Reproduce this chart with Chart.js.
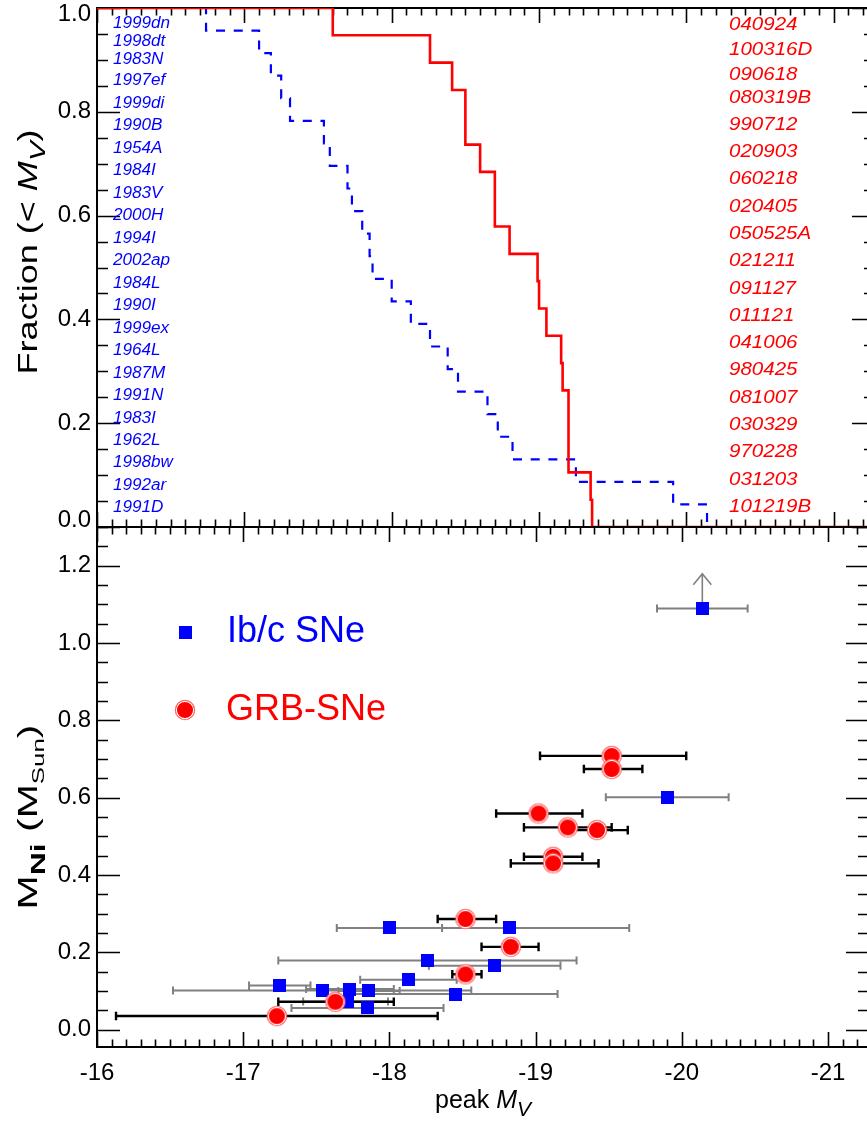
<!DOCTYPE html>
<html>
<head>
<meta charset="utf-8">
<title>Peak M_V and Ni masses of Ib/c SNe and GRB-SNe</title>
<script src="https://cdn.jsdelivr.net/npm/chart.js@4.4.1/dist/chart.umd.min.js"></script>
<style>
  html, body { margin: 0; padding: 0; background: #fff; overflow: hidden; }
  #wrap { position: relative; width: 867px; height: 1124px; overflow: hidden; }
  canvas { position: absolute; left: 0; top: 0; }
</style>
</head>
<body>
<div id="wrap">
  <canvas id="cdfChart" width="880" height="1124"></canvas>
  <canvas id="niChart" width="880" height="1124"></canvas>
</div>
<script>
// ---------- top panel: peak M_V behind the cumulative distributions ----------
const ibcNames = ['1999dn', '1998dt', '1983N', '1997ef', '1999di', '1990B', '1954A', '1984I',
  '1983V', '2000H', '1994I', '2002ap', '1984L', '1990I', '1999ex', '1964L', '1987M', '1991N',
  '1983I', '1962L', '1998bw', '1992ar', '1991D'];
const ibcCdfMV = [-16.74, -17.10, -17.18, -17.25, -17.31, -17.54, -17.58, -17.70, -17.73, -17.80,
  -17.85, -17.87, -18.00, -18.13, -18.26, -18.38, -18.45, -18.65, -18.72, -18.82, -19.25, -19.91, -20.14];

const grbNames = ['040924', '100316D', '090618', '080319B', '990712', '020903', '060218', '020405',
  '050525A', '021211', '091127', '011121', '041006', '980425', '081007', '030329', '970228',
  '031203', '101219B'];
const grbCdfMV = [-17.60, -18.26, -18.41, -18.50, -18.50, -18.60, -18.70, -18.70, -18.80, -18.99,
  -19.00, -19.05, -19.15, -19.16, -19.20, -19.20, -19.20, -19.35, -19.36];

// ---------- bottom panel: peak M_V against 56Ni mass ----------
const ibcMV       = [-18.00, -18.82, -18.26, -18.72, -18.13, -17.25, -17.54, -17.73, -17.86, -18.45, -17.71, -17.85, -20.14, -19.90];
const ibcNi       = [0.263, 0.263, 0.179, 0.165, 0.129, 0.114, 0.101, 0.105, 0.100, 0.092, 0.073, 0.056, 1.089, 0.601];
const ibcMVfaint  = [-17.64, -18.00, -17.24, -18.27, -17.80, -17.04, -16.52, -17.43, -17.65, -17.74, -17.41, -17.33, -19.83, -19.48];
const ibcMVbright = [-18.36, -19.64, -19.28, -19.17, -18.46, -17.46, -18.56, -18.03, -18.07, -19.15, -17.99, -18.37, -20.45, -20.32];
const ibcLowerLimit = [false, false, false, false, false, false, false, false, false, false, false, false, true, false];

const grbMV       = [-17.23, -17.63, -18.52, -18.83, -18.52, -19.12, -19.12, -19.02, -19.22, -19.42, -19.52, -19.52];
const grbNi       = [0.035, 0.072, 0.143, 0.214, 0.286, 0.447, 0.430, 0.559, 0.523, 0.516, 0.708, 0.674];
const grbMVfaint  = [-16.13, -17.24, -18.43, -18.63, -18.33, -18.92, -18.83, -18.73, -18.92, -19.22, -19.03, -19.33];
const grbMVbright = [-18.33, -18.03, -18.63, -19.02, -18.73, -19.32, -19.43, -19.32, -19.52, -19.63, -20.03, -19.73];

const legendLabels = ['Ib/c SNe', 'GRB-SNe'];

// axis ranges
const X_FAINT = -16, X_BRIGHT = -21.28;
const NI_MIN = -0.045, NI_MAX = 1.3;
const ARROW_LEN = 0.09;

const FONT = '"Liberation Sans", Arial, Helvetica, sans-serif';
const BLUE = '#0000ff', RED = '#ff0000', GREY = '#808080';

function cumulative(mags) {
  const sorted = mags.slice().sort((a, b) => b - a);
  const pts = [{ x: X_FAINT, y: 1 }];
  sorted.forEach((m, i) => pts.push({ x: m, y: 1 - (i + 1) / sorted.length }));
  pts.push({ x: X_BRIGHT, y: 0 });
  return pts;
}

function squareMarker(size, color) {
  const c = document.createElement('canvas');
  c.width = c.height = size;
  const g = c.getContext('2d');
  g.fillStyle = color;
  g.fillRect(0, 0, size, size);
  return c;
}

function discMarker(r) {
  const c = document.createElement('canvas');
  c.width = c.height = 2 * r + 2;
  const g = c.getContext('2d');
  const m = r + 1;
  g.fillStyle = RED;
  g.beginPath(); g.arc(m, m, r, 0, Math.PI * 2); g.fill();
  g.strokeStyle = '#ff8080'; g.lineWidth = 0.8;
  g.beginPath(); g.arc(m, m, r - 0.2, 0, Math.PI * 2); g.stroke();
  g.strokeStyle = '#ffffff'; g.lineWidth = 1.1;
  g.beginPath(); g.arc(m, m, r - 1.4, 0, Math.PI * 2); g.stroke();
  return c;
}

const squareImg = squareMarker(13, BLUE);
const discImg = discMarker(10);

// rich text: parts = [text, size, style, dy]
function richWidth(ctx, parts) {
  let w = 0;
  parts.forEach(p => { ctx.font = `${p[2] || ''} ${p[1]}px ${FONT}`; w += ctx.measureText(p[0]).width; });
  return w;
}
function drawRich(ctx, parts, x, y) {
  let cx = x;
  parts.forEach(p => {
    ctx.font = `${p[2] || ''} ${p[1]}px ${FONT}`;
    ctx.fillText(p[0], cx, y + (p[3] || 0));
    cx += ctx.measureText(p[0]).width;
  });
}

// frame plus IDL style inward ticks
function frameTicks(chart, yMinor, yMajor) {
  const { ctx, chartArea: a, scales: { x, y } } = chart;
  ctx.save();
  ctx.strokeStyle = '#000';
  ctx.lineWidth = 1.6;
  ctx.beginPath();
  for (let k = 0; ; k++) {
    const v = X_FAINT - k * 0.1;
    if (v < x.min - 1e-6) break;
    const px = Math.round(x.getPixelForValue(v)) + 0.5;
    const len = k % 10 === 0 ? 15 : 7.5;
    ctx.moveTo(px, a.top); ctx.lineTo(px, a.top + len);
    ctx.moveTo(px, a.bottom); ctx.lineTo(px, a.bottom - len);
  }
  const n0 = Math.ceil(y.min / yMinor - 1e-6);
  for (let k = n0; k * yMinor <= y.max + 1e-6; k++) {
    const v = k * yMinor;
    const py = Math.round(y.getPixelForValue(v)) + 0.5;
    const major = Math.abs(v / yMajor - Math.round(v / yMajor)) < 1e-6;
    const len = major ? 23 : 11;
    ctx.moveTo(a.left, py); ctx.lineTo(a.left + len, py);
    ctx.moveTo(a.right, py); ctx.lineTo(a.right - len, py);
  }
  ctx.stroke();
  ctx.lineWidth = 2;
  ctx.strokeRect(a.left, a.top, a.right - a.left, a.bottom - a.top);
  ctx.restore();
}

// rotated axis title, stretched along the text to a given length
function yTitle(ctx, parts, cx, cy, len) {
  ctx.save();
  const w = richWidth(ctx, parts);
  ctx.translate(cx, cy);
  ctx.rotate(-Math.PI / 2);
  ctx.scale(len / w, 1);
  ctx.fillStyle = '#000';
  ctx.textBaseline = 'alphabetic';
  drawRich(ctx, parts, -w / 2, 0);
  ctx.restore();
}

function fixedAxis(size, isX) {
  return function (s) {
    if (isX) { s.height = size; s.paddingLeft = 0; s.paddingRight = 0; }
    else { s.width = size; s.paddingTop = 0; s.paddingBottom = 0; }
  };
}

const tickFont = { family: FONT, size: 24 };

// ---------------- top chart ----------------
const cdfDecor = {
  id: 'cdfDecor',
  beforeDatasetsDraw(chart) { frameTicks(chart, 0.05, 0.2); },
  afterDraw(chart) {
    const { ctx, chartArea: a, scales: { y } } = chart;
    ctx.save();
    // y tick labels, the end ones kept inside the panel height
    ctx.fillStyle = '#000';
    ctx.font = `24px ${FONT}`;
    ctx.textAlign = 'right';
    ctx.textBaseline = 'middle';
    y.ticks.forEach(t => {
      const py = Math.min(Math.max(y.getPixelForValue(t.value), a.top + 6), a.bottom - 7);
      ctx.fillText(t.value.toFixed(1), 91, py);
    });
    ctx.textAlign = 'left';
    ctx.fillStyle = BLUE;
    ctx.font = `italic 16px ${FONT}`;
    ibcNames.forEach((name, i) => {
      const py = a.top + (i < 3 ? 16 + 17.7 * i : 72.7 + 22.49 * (i - 3));
      ctx.save(); ctx.translate(113, py); ctx.scale(1.07, 1); ctx.fillText(name, 0, 0); ctx.restore();
    });
    ctx.fillStyle = RED;
    ctx.font = `italic 19px ${FONT}`;
    grbNames.forEach((name, i) => {
      const py = a.top + (i < 3 ? 17 + 25 * i : 89.3 + 27.29 * (i - 3));
      ctx.save(); ctx.translate(729, py); ctx.scale(1.08, 1); ctx.fillText(name, 0, 0); ctx.restore();
    });
    yTitle(ctx, [['Fraction (< ', 27], ['M', 27, 'italic'], ['V', 22, 'italic', 8], [')', 27]], 37, 252, 245);
    ctx.restore();
  }
};

new Chart(document.getElementById('cdfChart'), {
  type: 'scatter',
  data: {
    datasets: [
      { label: 'GRB-SNe', data: cumulative(grbCdfMV), showLine: true, stepped: true,
        borderColor: RED, borderWidth: 2.6, pointRadius: 0, fill: false },
      { label: 'Ib/c SNe', data: cumulative(ibcCdfMV), showLine: true, stepped: true,
        borderColor: BLUE, borderWidth: 2.2, borderDash: [9, 8.7], pointRadius: 0, fill: false }
    ]
  },
  options: {
    responsive: false,
    animation: false,
    events: [],
    layout: { padding: { left: 0, top: 8, right: 5, bottom: 597 } },
    plugins: { legend: { display: false }, tooltip: { enabled: false } },
    scales: {
      x: { type: 'linear', min: X_BRIGHT, max: X_FAINT, reverse: true,
           grid: { display: false, drawTicks: false }, border: { display: false },
           ticks: { display: false, stepSize: 1 }, afterFit: fixedAxis(0, true) },
      y: { type: 'linear', min: 0, max: 1,
           grid: { display: false, drawTicks: false }, border: { display: false },
           ticks: { display: false, stepSize: 0.2 },
           afterFit: fixedAxis(97, false) }
    }
  },
  plugins: [cdfDecor]
});

// ---------------- bottom chart ----------------
function drawBars(ctx, x, y, mv, faint, bright, ni, color, width, cap) {
  ctx.strokeStyle = color;
  ctx.lineWidth = width;
  ctx.beginPath();
  for (let i = 0; i < mv.length; i++) {
    const py = y.getPixelForValue(ni[i]);
    const x1 = x.getPixelForValue(faint[i]);
    const x2 = x.getPixelForValue(bright[i]);
    ctx.moveTo(x1, py); ctx.lineTo(x2, py);
    ctx.moveTo(x1, py - cap); ctx.lineTo(x1, py + cap);
    ctx.moveTo(x2, py - cap); ctx.lineTo(x2, py + cap);
  }
  ctx.stroke();
}

const niDecor = {
  id: 'niDecor',
  beforeDatasetsDraw(chart) {
    const { ctx, scales: { x, y } } = chart;
    frameTicks(chart, 0.05, 0.2);
    ctx.save();
    drawBars(ctx, x, y, ibcMV, ibcMVfaint, ibcMVbright, ibcNi, GREY, 2, 4);
    drawBars(ctx, x, y, grbMV, grbMVfaint, grbMVbright, grbNi, '#000', 2.4, 4.3);
    // lower limit arrows
    ctx.strokeStyle = GREY;
    ctx.lineWidth = 1.6;
    ibcLowerLimit.forEach((lim, i) => {
      if (!lim) return;
      const px = x.getPixelForValue(ibcMV[i]);
      const p0 = y.getPixelForValue(ibcNi[i]);
      const p1 = y.getPixelForValue(ibcNi[i] + ARROW_LEN);
      ctx.beginPath();
      ctx.moveTo(px, p0); ctx.lineTo(px, p1);
      ctx.moveTo(px - 9, p1 + 11); ctx.lineTo(px, p1); ctx.lineTo(px + 9, p1 + 11);
      ctx.stroke();
    });
    ctx.restore();
  },
  afterDraw(chart) {
    const { ctx } = chart;
    ctx.save();
    // legend
    ctx.drawImage(squareImg, 185 - 6.5, 632 - 6.5);
    ctx.drawImage(discImg, 185 - discImg.width / 2, 710 - discImg.height / 2);
    ctx.textBaseline = 'middle';
    ctx.font = `36px ${FONT}`;
    ctx.fillStyle = BLUE;
    ctx.fillText(legendLabels[0], 227, 632);
    ctx.fillStyle = RED;
    ctx.fillText(legendLabels[1], 226, 710);
    // axis titles
    ctx.textBaseline = 'alphabetic';
    ctx.fillStyle = '#000';
    drawRich(ctx, [['peak ', 25], ['M', 25, 'italic'], ['V', 21, 'italic', 8]], 435, 1108);
    yTitle(ctx, [['M', 27], ['Ni', 21, 'bold', 8], [' (M', 27], ['Sun', 17, '', 7], [')', 27]], 37, 817, 185);
    ctx.restore();
  }
};

new Chart(document.getElementById('niChart'), {
  type: 'scatter',
  data: {
    datasets: [
      { label: legendLabels[1], data: grbMV.map((m, i) => ({ x: m, y: grbNi[i] })),
        pointStyle: discImg, pointRadius: 10 },
      { label: legendLabels[0], data: ibcMV.map((m, i) => ({ x: m, y: ibcNi[i] })),
        pointStyle: squareImg, pointRadius: 7 }
    ]
  },
  options: {
    responsive: false,
    animation: false,
    events: [],
    layout: { padding: { left: 0, top: 527, right: 5, bottom: 0 } },
    plugins: { legend: { display: false }, tooltip: { enabled: false } },
    scales: {
      x: { type: 'linear', min: X_BRIGHT, max: X_FAINT, reverse: true,
           grid: { display: false, drawTicks: false }, border: { display: false },
           ticks: { stepSize: 1, padding: 12, color: '#000', font: tickFont, includeBounds: false,
                    maxRotation: 0, autoSkip: false, callback: v => v.toFixed(0) },
           afterFit: fixedAxis(77, true) },
      y: { type: 'linear', min: NI_MIN, max: NI_MAX,
           grid: { display: false, drawTicks: false }, border: { display: false },
           ticks: { stepSize: 0.2, padding: 6, color: '#000', font: tickFont, includeBounds: false,
                    callback: v => v.toFixed(1) },
           afterFit: fixedAxis(97, false) }
    }
  },
  plugins: [niDecor]
});
</script>
</body>
</html>
